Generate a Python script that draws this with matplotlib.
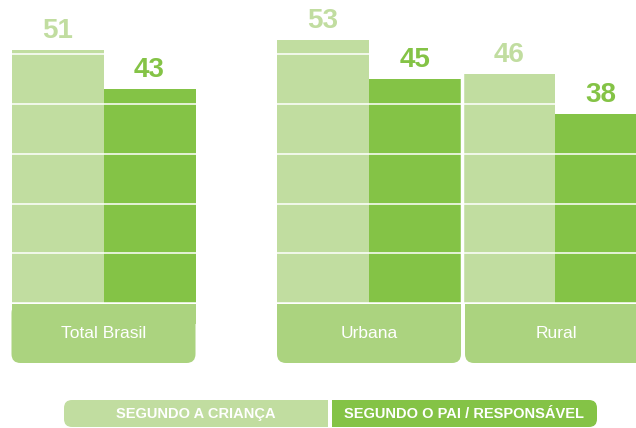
import matplotlib
matplotlib.use("Agg")
import matplotlib.pyplot as plt
from matplotlib.patches import FancyBboxPatch, Rectangle

# dados
categorias = ["Total Brasil", "Urbana", "Rural"]
segundo_crianca = [51, 53, 46]
segundo_pai = [43, 45, 38]
legenda = ["SEGUNDO A CRIANÇA", "SEGUNDO O PAI / RESPONSÁVEL"]

# cores
VERDE_CLARO = "#C1DDA0"
VERDE_ESCURO = "#84C346"
VERDE_PAINEL = "#ABD37F"

W, H = 636, 428
fig = plt.figure(figsize=(W / 100, H / 100), dpi=100)
fig.patch.set_facecolor("white")

# camada de fundo em pixels (paineis e legenda)
ov = fig.add_axes([0, 0, 1, 1], zorder=0)
ov.set_xlim(0, W)
ov.set_ylim(H, 0)
ov.axis("off")

# eixo principal: x em pixels, y em valores
base_px = 303
px_por_unidade = 4.97
ymax = 60
ax = fig.add_axes([0, (H - base_px) / H, 1, ymax * px_por_unidade / H], zorder=1)
ax.set_xlim(0, W)
ax.set_ylim(0, ymax)
ax.patch.set_alpha(0)
ax.axis("off")

centros = [103.5, 369, 555]
larg = 92

xs_claro = [c - larg / 2 for c in centros]
xs_escuro = [c + larg / 2 for c in centros]
ax.bar(xs_claro, segundo_crianca, width=larg, color=VERDE_CLARO, zorder=2)
ax.bar(xs_escuro, segundo_pai, width=larg, color=VERDE_ESCURO, zorder=2)

# linhas de grade brancas sobre as barras
for v in range(0, 60, 10):
    ax.axhline(v, color="white", lw=1.1, zorder=3)

sans = ["Liberation Sans", "DejaVu Sans"]
valor_font = dict(family=sans, fontsize=20, fontweight="bold")
for x, v in zip(xs_claro, segundo_crianca):
    ax.annotate(str(v), (x, v), xytext=(0, 8.6), textcoords="offset points",
                ha="center", va="baseline", color=VERDE_CLARO, **valor_font)
for x, v in zip(xs_escuro, segundo_pai):
    ax.annotate(str(v), (x, v), xytext=(0, 8.6), textcoords="offset points",
                ha="center", va="baseline", color=VERDE_ESCURO, **valor_font)

# separacao branca entre Urbana e Rural
ax.axvline(centros[2] - larg - 1.5, color="white", lw=2.5, zorder=4)

# paineis com os nomes das categorias
topo, fundo = base_px + 1, 363
paineis = [(centros[0] - larg, centros[0] + larg),
           (centros[1] - larg, centros[1] + larg),
           (centros[2] - larg + 2, centros[2] + larg)]
for (x0, x1), nome in zip(paineis, categorias):
    ov.add_patch(FancyBboxPatch((x0, topo), x1 - x0, fundo - topo,
                                boxstyle="round,pad=0,rounding_size=9",
                                fc=VERDE_PAINEL, ec="none"))
    ov.add_patch(Rectangle((x0, topo), x1 - x0, 20, fc=VERDE_PAINEL, ec="none"))
    ov.text((x0 + x1) / 2, 333, nome, ha="center", va="center",
            color="white", fontsize=12.5, family=sans)

# legenda
ly0, ly1 = 400, 427
caixas = [(64, 328, VERDE_CLARO, "esq"), (332, 597, VERDE_ESCURO, "dir")]
for (x0, x1, cor, lado), txt in zip(caixas, legenda):
    ov.add_patch(FancyBboxPatch((x0, ly0), x1 - x0, ly1 - ly0,
                                boxstyle="round,pad=0,rounding_size=8",
                                fc=cor, ec="none"))
    if lado == "esq":
        ov.add_patch(Rectangle((x1 - 20, ly0), 20, ly1 - ly0, fc=cor, ec="none"))
    else:
        ov.add_patch(Rectangle((x0, ly0), 20, ly1 - ly0, fc=cor, ec="none"))
    ov.text((x0 + x1) / 2, (ly0 + ly1) / 2 + 0.5, txt, ha="center", va="center",
            color="white", fontsize=10.5, fontweight="bold", family=sans)

fig.savefig("out.png", dpi=100)
